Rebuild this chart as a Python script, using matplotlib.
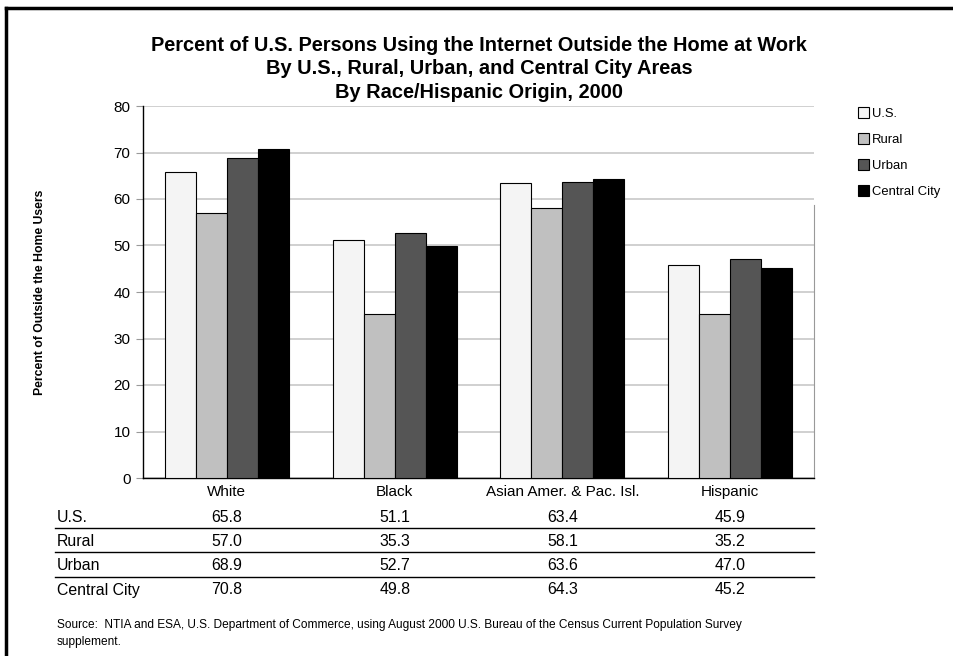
import matplotlib
matplotlib.use("Agg")
import matplotlib.pyplot as plt
import matplotlib.transforms as mtransforms
from matplotlib.lines import Line2D
from matplotlib.patches import Patch
import numpy as np

groups = ["White", "Black", "Asian Amer. & Pac. Isl.", "Hispanic"]
areas = ["U.S.", "Rural", "Urban", "Central City"]
us_vals = [65.8, 51.1, 63.4, 45.9]
rural_vals = [57.0, 35.3, 58.1, 35.2]
urban_vals = [68.9, 52.7, 63.6, 47.0]
central_vals = [70.8, 49.8, 64.3, 45.2]
series = [us_vals, rural_vals, urban_vals, central_vals]
colors = ["#f4f4f4", "#c0c0c0", "#555555", "#000000"]

W, H = 954, 656
plt.rcParams["font.family"] = ["Liberation Sans", "DejaVu Sans"]

def px(x, y):
    return x / W, 1 - y / H

fig = plt.figure(figsize=(W / 100, H / 100), dpi=100, facecolor="white")
ax = fig.add_axes([143 / W, 1 - 478 / H, 671 / W, 372 / H])

x = np.arange(len(groups))
bw = 0.185
for i, (vals, col) in enumerate(zip(series, colors)):
    ax.bar(x + (i - 1.5) * bw, vals, bw, color=col, edgecolor="black",
           linewidth=0.8, label=areas[i], zorder=3)

ax.set_xlim(-0.5, 3.5)
ax.set_ylim(0, 80)
ax.set_yticks(range(0, 81, 10))
ax.yaxis.grid(True, color="#c8c8c8", linewidth=1.2, zorder=0)
ax.tick_params(axis="y", labelsize=11, color="#999999", length=5, pad=4)
ax.set_xticks(x)
ax.set_xticklabels(groups, fontsize=11)
ax.tick_params(axis="x", length=0, pad=5)
ax.spines["top"].set_visible(False)
ax.spines["right"].set_color("#999999")
ax.spines["right"].set_bounds(0, 58.7)
ax.spines["left"].set_linewidth(1.0)
ax.spines["bottom"].set_linewidth(1.0)

fig.text(*px(40, 292), "Percent of Outside the Home Users", rotation=90,
         ha="center", va="center", fontsize=8.8, fontweight="bold")

title = ("Percent of U.S. Persons Using the Internet Outside the Home at Work\n"
         "By U.S., Rural, Urban, and Central City Areas\n"
         "By Race/Hispanic Origin, 2000")
fig.text(*px(479, 69), title, ha="center", va="center", fontsize=14.4,
         fontweight="bold", linespacing=1.32)

handles = [Patch(facecolor=c, edgecolor="black", linewidth=0.8) for c in colors]
fig.legend(handles, areas, loc="upper left", bbox_to_anchor=px(853, 102),
           frameon=False, fontsize=9.4, handlelength=0.85, handleheight=0.85,
           handletextpad=0.2, labelspacing=1.02, borderaxespad=0)

# data table under the chart
trans = mtransforms.blended_transform_factory(ax.transData, fig.transFigure)
row_y = [517, 541, 566, 590]
for name, vals, ry in zip(areas, series, row_y):
    fig.text(57 / W, 1 - ry / H, name, ha="left", va="center", fontsize=11.4)
    for xi, v in zip(x, vals):
        ax.text(xi, 1 - ry / H, f"{v:.1f}", transform=trans, ha="center",
                va="center", fontsize=11.4)
for ly in [528, 552, 577]:
    fig.add_artist(Line2D([55 / W, 814 / W], [1 - ly / H] * 2, color="black",
                          linewidth=1.0))

fig.text(57 / W, 1 - 625 / H,
         "Source:  NTIA and ESA, U.S. Department of Commerce, using August 2000 "
         "U.S. Bureau of the Census Current Population Survey",
         ha="left", va="center", fontsize=8.6)
fig.text(57 / W, 1 - 642 / H, "supplement.", ha="left", va="center",
         fontsize=8.6)

# outer frame (top and left edges)
fig.add_artist(Line2D([6 / W, 1], [1 - 8 / H] * 2, color="black", linewidth=2.5))
fig.add_artist(Line2D([6 / W] * 2, [0, 1 - 8 / H], color="black", linewidth=2.5))

fig.savefig("out.png", dpi=100)
